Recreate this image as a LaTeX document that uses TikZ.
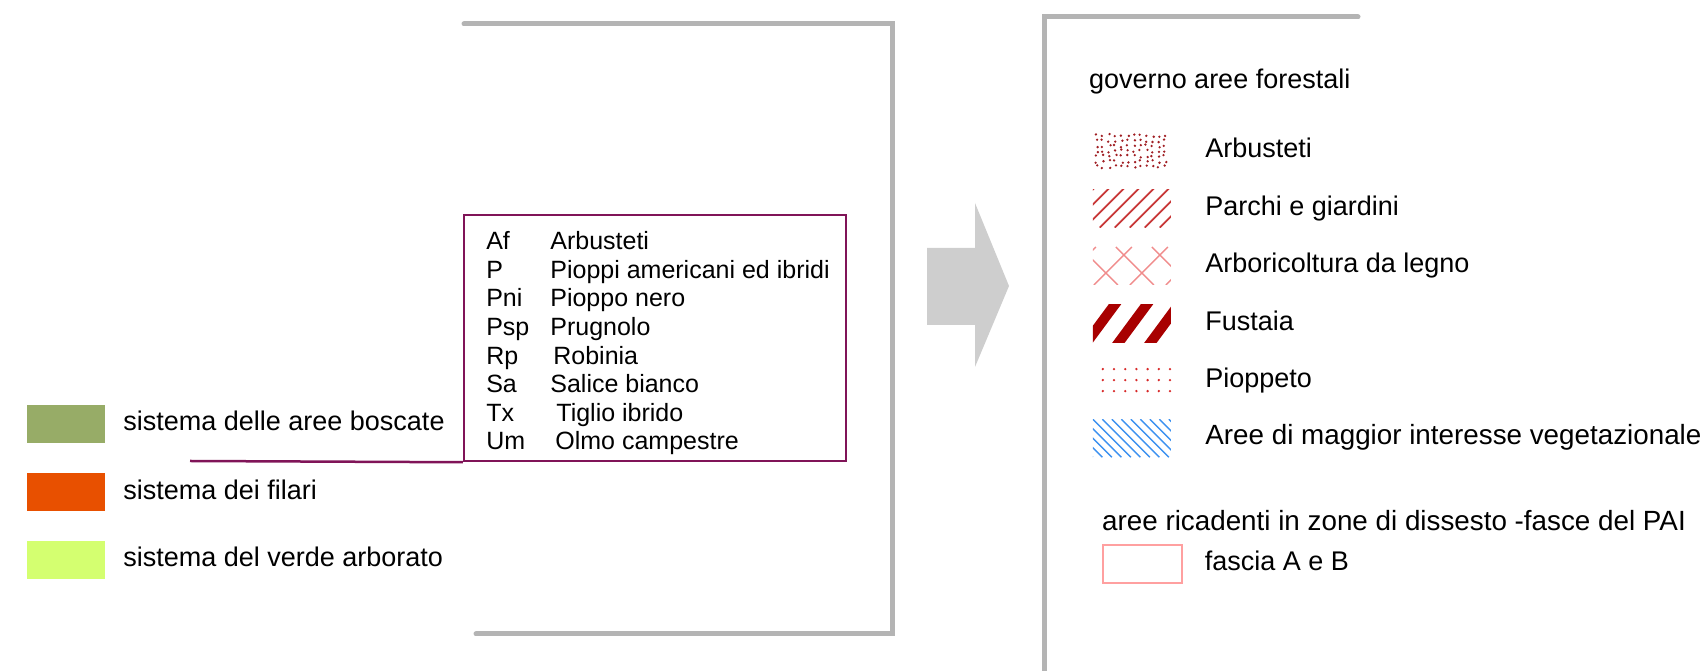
\documentclass[tikz,border=0pt]{standalone}
\usepackage{fontspec}
\setmainfont{Liberation Sans}
\usetikzlibrary{positioning}

\definecolor{bracketgray}{RGB}{180,180,180}
\definecolor{arrowgray}{RGB}{206,206,206}
\definecolor{listpurple}{RGB}{128,20,88}
\definecolor{boscate}{RGB}{151,172,103}
\definecolor{filari}{RGB}{232,80,0}
\definecolor{arborato}{RGB}{212,255,112}
\definecolor{dotred}{RGB}{160,30,35}
\definecolor{hatchred}{RGB}{200,55,55}
\definecolor{crossred}{RGB}{240,140,140}
\definecolor{fustred}{RGB}{168,0,0}
\definecolor{poplarred}{RGB}{215,40,40}
\definecolor{hatchblue}{RGB}{60,145,240}
\definecolor{paipink}{RGB}{255,160,160}

\begin{document}
\begin{tikzpicture}[x=1pt, y=1pt,
    swatch/.style={minimum width=78pt, minimum height=38pt, inner sep=0pt},
    legtext/.style={inner sep=0pt, text height=19.5pt, text depth=5.5pt, font=\fontsize{27}{32}\selectfont},
    longtext/.style={legtext, font=\fontsize{27.8}{32}\selectfont},
    bracket/.style={draw=bracketgray, line width=5pt, line cap=round},
    listbox/.style={draw=listpurple, line width=2.5pt, minimum width=382pt, minimum height=246pt, inner sep=0pt}]

  \useasboundingbox (0,0) rectangle (1708,671);

  % brackets and arrow
  \draw[bracket] (464,647) -- (892,647) -- (892,37) -- (476,37);
  \draw[bracket] (1358,654) -- (1044,654) -- (1044,0);
  \fill[arrowgray] (927,423) -- (975,423) -- (975,468) -- (1009,385) -- (975,304) -- (975,346) -- (927,346) -- cycle;

  % left legend
  \node[swatch, fill=boscate] (l1) at (66,247) {};
  \node[legtext, right=18pt of l1] (lt1) {sistema delle aree boscate};
  \node[swatch, fill=filari, below=30pt of l1] (l2) {};
  \node[legtext, right=18pt of l2] (lt2) {sistema dei filari};
  \node[swatch, fill=arborato, below=29pt of l2] (l3) {};
  \node[legtext, right=18pt of l3] (lt3) {sistema del verde arborato};

  % species list
  \node[listbox] (list) at (655,333) {};
  \node[inner sep=0pt, font=\fontsize{25}{28.6}\selectfont] (species) at ([xshift=3pt,yshift=-6pt]list.center)
    {\begin{tabular}{@{}l@{\hspace{21pt}}l@{}}
      Af & Arbusteti\\
      P & Pioppi americani ed ibridi\\
      Pni & Pioppo nero\\
      Psp & Prugnolo\\
      Rp & \hspace{3pt}Robinia\\
      Sa & Salice bianco\\
      Tx & \hspace{6pt}Tiglio ibrido\\
      Um & \hspace{5pt}Olmo campestre
    \end{tabular}};
  \coordinate (lineend) at (190,210);
  \draw[listpurple, line width=2.5pt] (list.south west) -- (lineend);

  % right legend
  \node[legtext, anchor=west] (head) at (1089,589) {governo aree forestali};
  \node[swatch] (r1) at (1132,520) {};
  \node[legtext, right=34pt of r1] (rt1) {Arbusteti};
  \node[swatch, below=19pt of r1] (r2) {};
  \node[legtext, right=34pt of r2] (rt2) {Parchi e giardini};
  \node[swatch, below=19pt of r2] (r3) {};
  \node[legtext, right=34pt of r3] (rt3) {Arboricoltura da legno};
  \node[swatch, below=19pt of r3] (r4) {};
  \node[legtext, right=34pt of r4] (rt4) {Fustaia};
  \node[swatch, below=19pt of r4] (r5) {};
  \node[legtext, right=34pt of r5] (rt5) {Pioppeto};
  \node[swatch, below=19pt of r5] (r6) {};
  \node[longtext, right=34pt of r6] (rt6) {Aree di maggior interesse vegetazionale};

  \node[longtext, anchor=west] (pai) at (1102,147) {aree ricadenti in zone di dissesto -fasce del PAI};
  \node[swatch, minimum width=79pt, draw=paipink, line width=1.2pt] (r7) at (1142.5,107) {};
  \node[legtext, right=22pt of r7] (rt7) {fascia A e B};

  % fills of the swatches
  \begin{scope}[shift={(r1.south west)}]
    \clip (0,0) rectangle (78,38);
    \pgfmathsetseed{17}
    \foreach \i in {0,...,11}
      \foreach \j in {0,...,6}
        \fill[dotred] (4+6.2*\i+3*rnd-1.5, 3.5+5.2*\j+3*rnd-1.5) circle (1.3);
  \end{scope}
  \begin{scope}[shift={(r2.south west)}]
    \clip (0,0) rectangle (78,38);
    \foreach \k in {-38,-23,...,78}
      \draw[hatchred, line width=1.8pt] (\k,0) -- ++(40,40);
  \end{scope}
  \begin{scope}[shift={(r3.south west)}, crossred, line width=1.4pt]
    \clip (0,0) rectangle (78,38);
    \foreach \k in {-35,1,37,73}
      \draw (\k,0) -- ++(38,38);
    \foreach \k in {25,61,97}
      \draw (\k,0) -- ++(-38,38);
  \end{scope}
  \begin{scope}[shift={(r4.south west)}]
    \clip (0,0) rectangle (78,38);
    \foreach \k in {-6,26,58,90}
      \draw[fustred, line width=10pt] (\k-3,-4) -- ++(34,46);
  \end{scope}
  \begin{scope}[shift={(r5.south west)}]
    \foreach \i in {0,...,6}
      \foreach \j in {8.7,19.7,30.7}
        \fill[poplarred] (10+11.2*\i,\j) circle (1.3);
  \end{scope}
  \begin{scope}[shift={(r6.south west)}]
    \clip (0,0) rectangle (78,38);
    \foreach \k in {-38,-28.5,...,78}
      \draw[hatchblue, line width=1.3pt] (\k,38) -- ++(38,-38);
  \end{scope}

\end{tikzpicture}
\end{document}
